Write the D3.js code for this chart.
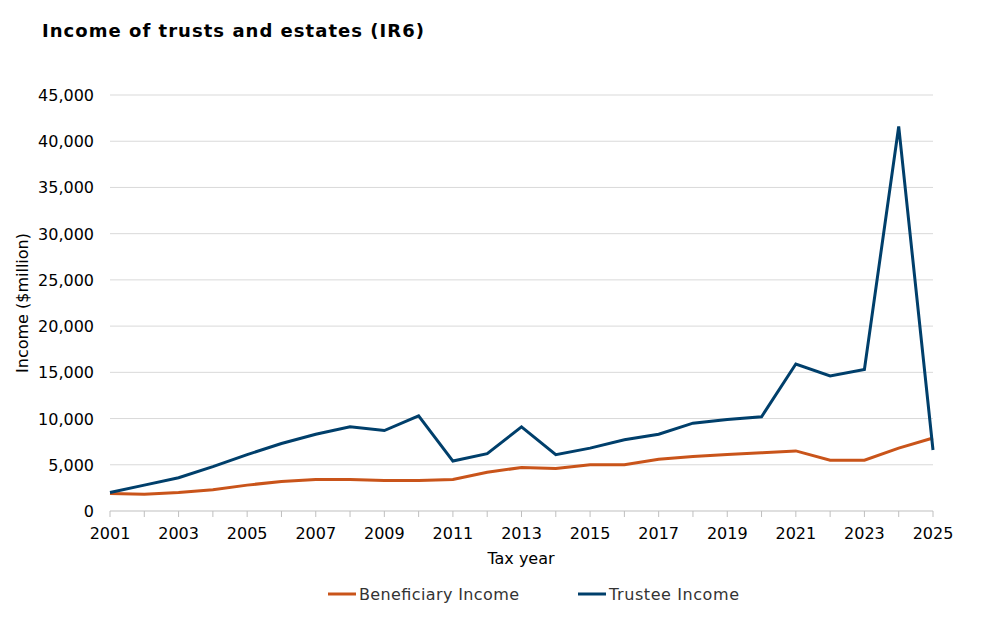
<!DOCTYPE html><html><head><meta charset="utf-8"><script src="https://cdn.jsdelivr.net/npm/d3@7"></script>
<style>body{margin:0;background:#fff}text{font-family:"DejaVu Sans",Verdana,sans-serif}</style></head><body><svg id="c" width="1000" height="619"></svg>
<script>
const years=d3.range(2001,2026);
const beneficiary=[1900,1800,2000,2300,2800,3200,3400,3400,3300,3300,3400,4200,4700,4600,5000,5000,5600,5900,6100,6300,6500,5500,5500,6800,7900];
const trustee=[2000,2800,3600,4800,6100,7300,8300,9100,8700,10300,5400,6200,9100,6100,6800,7700,8300,9500,9900,10200,15900,14600,15300,41600,6600];
const yTicks=d3.range(0,45001,5000);
const svg=d3.select("#c");
const x=d3.scaleLinear().domain([2001,2025]).range([110,933]);
const y=d3.scaleLinear().domain([0,45000]).range([511,95]);
svg.append("text").attr("x",42).attr("y",37).attr("font-size",18).attr("font-weight","bold").attr("textLength",382).text("Income of trusts and estates (IR6)");
svg.append("g").selectAll("line").data(yTicks.slice(1)).join("line").attr("x1",110).attr("x2",933).attr("y1",y).attr("y2",y).attr("stroke","#d9d9d9");
svg.append("g").selectAll("text").data(yTicks).join("text").attr("x",94).attr("y",d=>y(d)+6).attr("text-anchor","end").attr("font-size",16).attr("fill","#000").text(d=>d3.format(",")(d));
svg.append("line").attr("x1",110).attr("x2",933).attr("y1",511).attr("y2",511).attr("stroke","#bfbfbf");
svg.append("g").selectAll("line").data(years).join("line").attr("x1",x).attr("x2",x).attr("y1",511).attr("y2",517).attr("stroke","#bfbfbf");
svg.append("g").selectAll("text").data(years.filter(d=>d%2==1)).join("text").attr("x",x).attr("y",539).attr("text-anchor","middle").attr("font-size",16).text(d=>d);
svg.append("text").attr("x",521).attr("y",564).attr("text-anchor","middle").attr("font-size",16).text("Tax year");
svg.append("text").attr("transform","translate(28,303) rotate(-90)").attr("text-anchor","middle").attr("font-size",16).text("Income ($million)");
const line=d3.line().x((d,i)=>x(years[i])).y(d=>y(d));
svg.append("path").datum(beneficiary).attr("d",line).attr("fill","none").attr("stroke","#c9541a").attr("stroke-width",3);
svg.append("path").datum(trustee).attr("d",line).attr("fill","none").attr("stroke","#003f6b").attr("stroke-width",3);
const leg=[["Beneficiary Income","#c9541a",328,160],["Trustee Income","#003f6b",578,130]];
leg.forEach(([t,c,lx,w])=>{svg.append("line").attr("x1",lx).attr("x2",lx+28).attr("y1",594).attr("y2",594).attr("stroke",c).attr("stroke-width",3);
svg.append("text").attr("x",lx+31).attr("y",600).attr("font-size",16).attr("fill","#333").attr("textLength",w).text(t);});
</script></body></html>
